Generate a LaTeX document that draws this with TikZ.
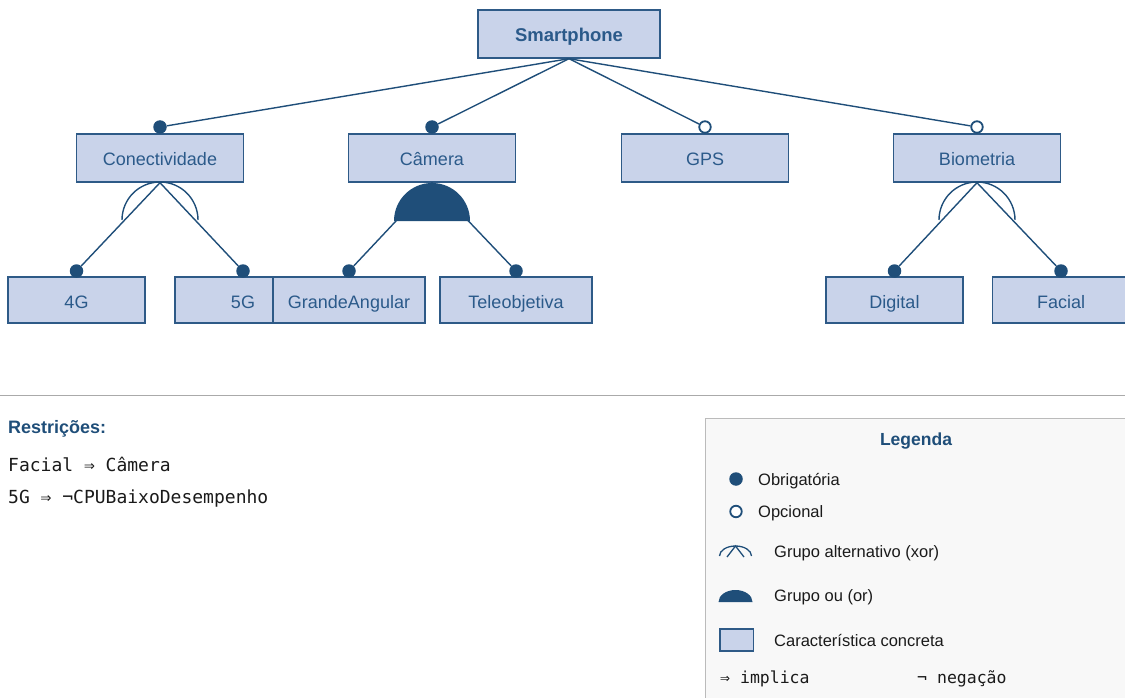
\documentclass[tikz,border=0pt]{standalone}
\usepackage{fontspec}
\setmainfont{Liberation Sans}
\newfontfamily\monof{DejaVu Sans Mono}
\definecolor{boxfill}{HTML}{C9D3EA}
\definecolor{boxline}{HTML}{2E5A87}
\definecolor{dark}{HTML}{1F4E79}
\definecolor{txtc}{HTML}{2B5A8A}
\definecolor{sepc}{HTML}{AAAAAA}
\definecolor{legfill}{HTML}{F8F8F8}
\definecolor{legline}{HTML}{BBBBBB}
\definecolor{ink}{HTML}{1A1A1A}
\tikzset{
  feat/.style={draw=boxline, fill=boxfill, line width=1.4pt, text=txtc,
    font=\fontsize{18}{20}\selectfont, text height=16pt, text depth=0pt,
    inner sep=0pt, minimum height=48pt},
  low/.style={feat, minimum height=46pt},
  mand/.style={circle, fill=dark, inner sep=0pt, minimum size=13.5pt},
  opt/.style={circle, draw=dark, fill=white, line width=1.8pt, inner sep=0pt, minimum size=11.5pt},
  conn/.style={draw=dark, line width=1.4pt},
  legtxt/.style={anchor=base west, text=ink, font=\fontsize{16.5}{18}\selectfont, inner sep=0pt},
  monotxt/.style={anchor=base west, text=ink, font=\monof\fontsize{18}{20}\selectfont, inner sep=0pt},
  title/.style={anchor=base west, text=dark, font=\bfseries\fontsize{18}{20}\selectfont, inner sep=0pt}
}
\begin{document}
\begin{tikzpicture}[x=1pt,y=1pt]
\useasboundingbox (0,0) rectangle (1125,-698);
\begin{scope}
\clip (0,0) rectangle (1125,-698);
% root
\node[feat, minimum width=182pt, font=\bfseries\fontsize{18.5}{20}\selectfont] (S) at (569,-34) {Smartphone};
% level 1
\node[feat, minimum width=167pt] (Con) at (160,-158) {Conectividade};
\node[feat, minimum width=167pt] (Cam) at (432,-158) {Câmera};
\node[feat, minimum width=167pt] (GPS) at (705,-158) {GPS};
\node[feat, minimum width=167pt] (Bio) at (977,-158) {Biometria};
% level 2
\node[low, minimum width=137pt] (G4) at (76.5,-300) {4G};
\node[low, minimum width=136pt] (G5) at (243,-300) {5G};
\node[low, minimum width=152pt] (GA) at (349,-300) {GrandeAngular};
\node[low, minimum width=152pt] (Tel) at (516,-300) {Teleobjetiva};
\node[low, minimum width=137pt] (Dig) at (894.5,-300) {Digital};
\node[low, minimum width=137pt] (Fac) at (1061,-300) {Facial};
% group symbols
\draw[conn] (122,-220) arc (180:0:38);
\fill[dark] (394,-221) arc (180:0:38) -- cycle;
\draw[conn] (939,-220) arc (180:0:38);
% markers
\node[mand] (mCon) at (160,-127) {};
\node[mand] (mCam) at (432,-127) {};
\node[opt] (mGPS) at (705,-127) {};
\node[opt] (mBio) at (977,-127) {};
\node[mand] (m4) at (76.5,-271) {};
\node[mand] (m5) at (243,-271) {};
\node[mand] (mGA) at (349,-271) {};
\node[mand] (mTel) at (516,-271) {};
\node[mand] (mDig) at (894.5,-271) {};
\node[mand] (mFac) at (1061,-271) {};
% connectors
\draw[conn] (S.south) -- (mCon);
\draw[conn] (S.south) -- (mCam);
\draw[conn] (S.south) -- (mGPS);
\draw[conn] (S.south) -- (mBio);
\draw[conn] (Con.south) -- (m4);
\draw[conn] (Con.south) -- (m5);
\draw[conn] (Cam.south) -- (mGA);
\draw[conn] (Cam.south) -- (mTel);
\draw[conn] (Bio.south) -- (mDig);
\draw[conn] (Bio.south) -- (mFac);
% separator
\coordinate (sepL) at (0,-395);
\coordinate (sepR) at (1125,-395);
\draw[sepc, line width=1pt] (sepL) -- (sepR);
% restrictions
\node[title] (rt) at (8,-433) {Restrições:};
\node[monotxt] (r1) at (8,-471) {Facial ⇒ Câmera};
\node[monotxt] (r2) at (8,-503) {5G ⇒ ¬CPUBaixoDesempenho};
% legend
\draw[draw=legline, fill=legfill, line width=1pt] (705,-418) rectangle (1140,-712);
\node[anchor=base, text=dark, font=\bfseries\fontsize{17.5}{20}\selectfont, inner sep=0pt] (lt) at (916,-445) {Legenda};
\node[mand] (lm) at (736,-479) {};
\node[legtxt] (lmt) at (758,-485) {Obrigatória};
\node[opt] (lo) at (736,-511.5) {};
\node[legtxt] (lot) at (758,-517.5) {Opcional};
\draw[conn, line width=1.3pt] (719.5,-556) arc (180:0:16 and 10);
\coordinate (xa) at (735.5,-546);
\coordinate (xl) at (727,-557);
\coordinate (xr) at (744,-557);
\draw[conn, line width=1.3pt] (xl) -- (xa) -- (xr);
\node[legtxt] (lxt) at (774,-557) {Grupo alternativo (xor)};
\fill[dark] (718.5,-602) arc (180:0:17 and 12) -- cycle;
\node[legtxt] (lort) at (774,-601) {Grupo ou (or)};
\draw[draw=boxline, fill=boxfill, line width=1.4pt] (720,-629) rectangle (753.5,-651);
\node[legtxt] (lct) at (774,-646) {Característica concreta};
\node[anchor=base west, text=ink, font=\monof\fontsize{16.5}{18}\selectfont, inner sep=0pt] (li) at (720,-683) {⇒ implica};
\node[anchor=base west, text=ink, font=\monof\fontsize{16.5}{18}\selectfont, inner sep=0pt] (ln) at (917,-683) {¬ negação};
\end{scope}
\end{tikzpicture}
\end{document}
